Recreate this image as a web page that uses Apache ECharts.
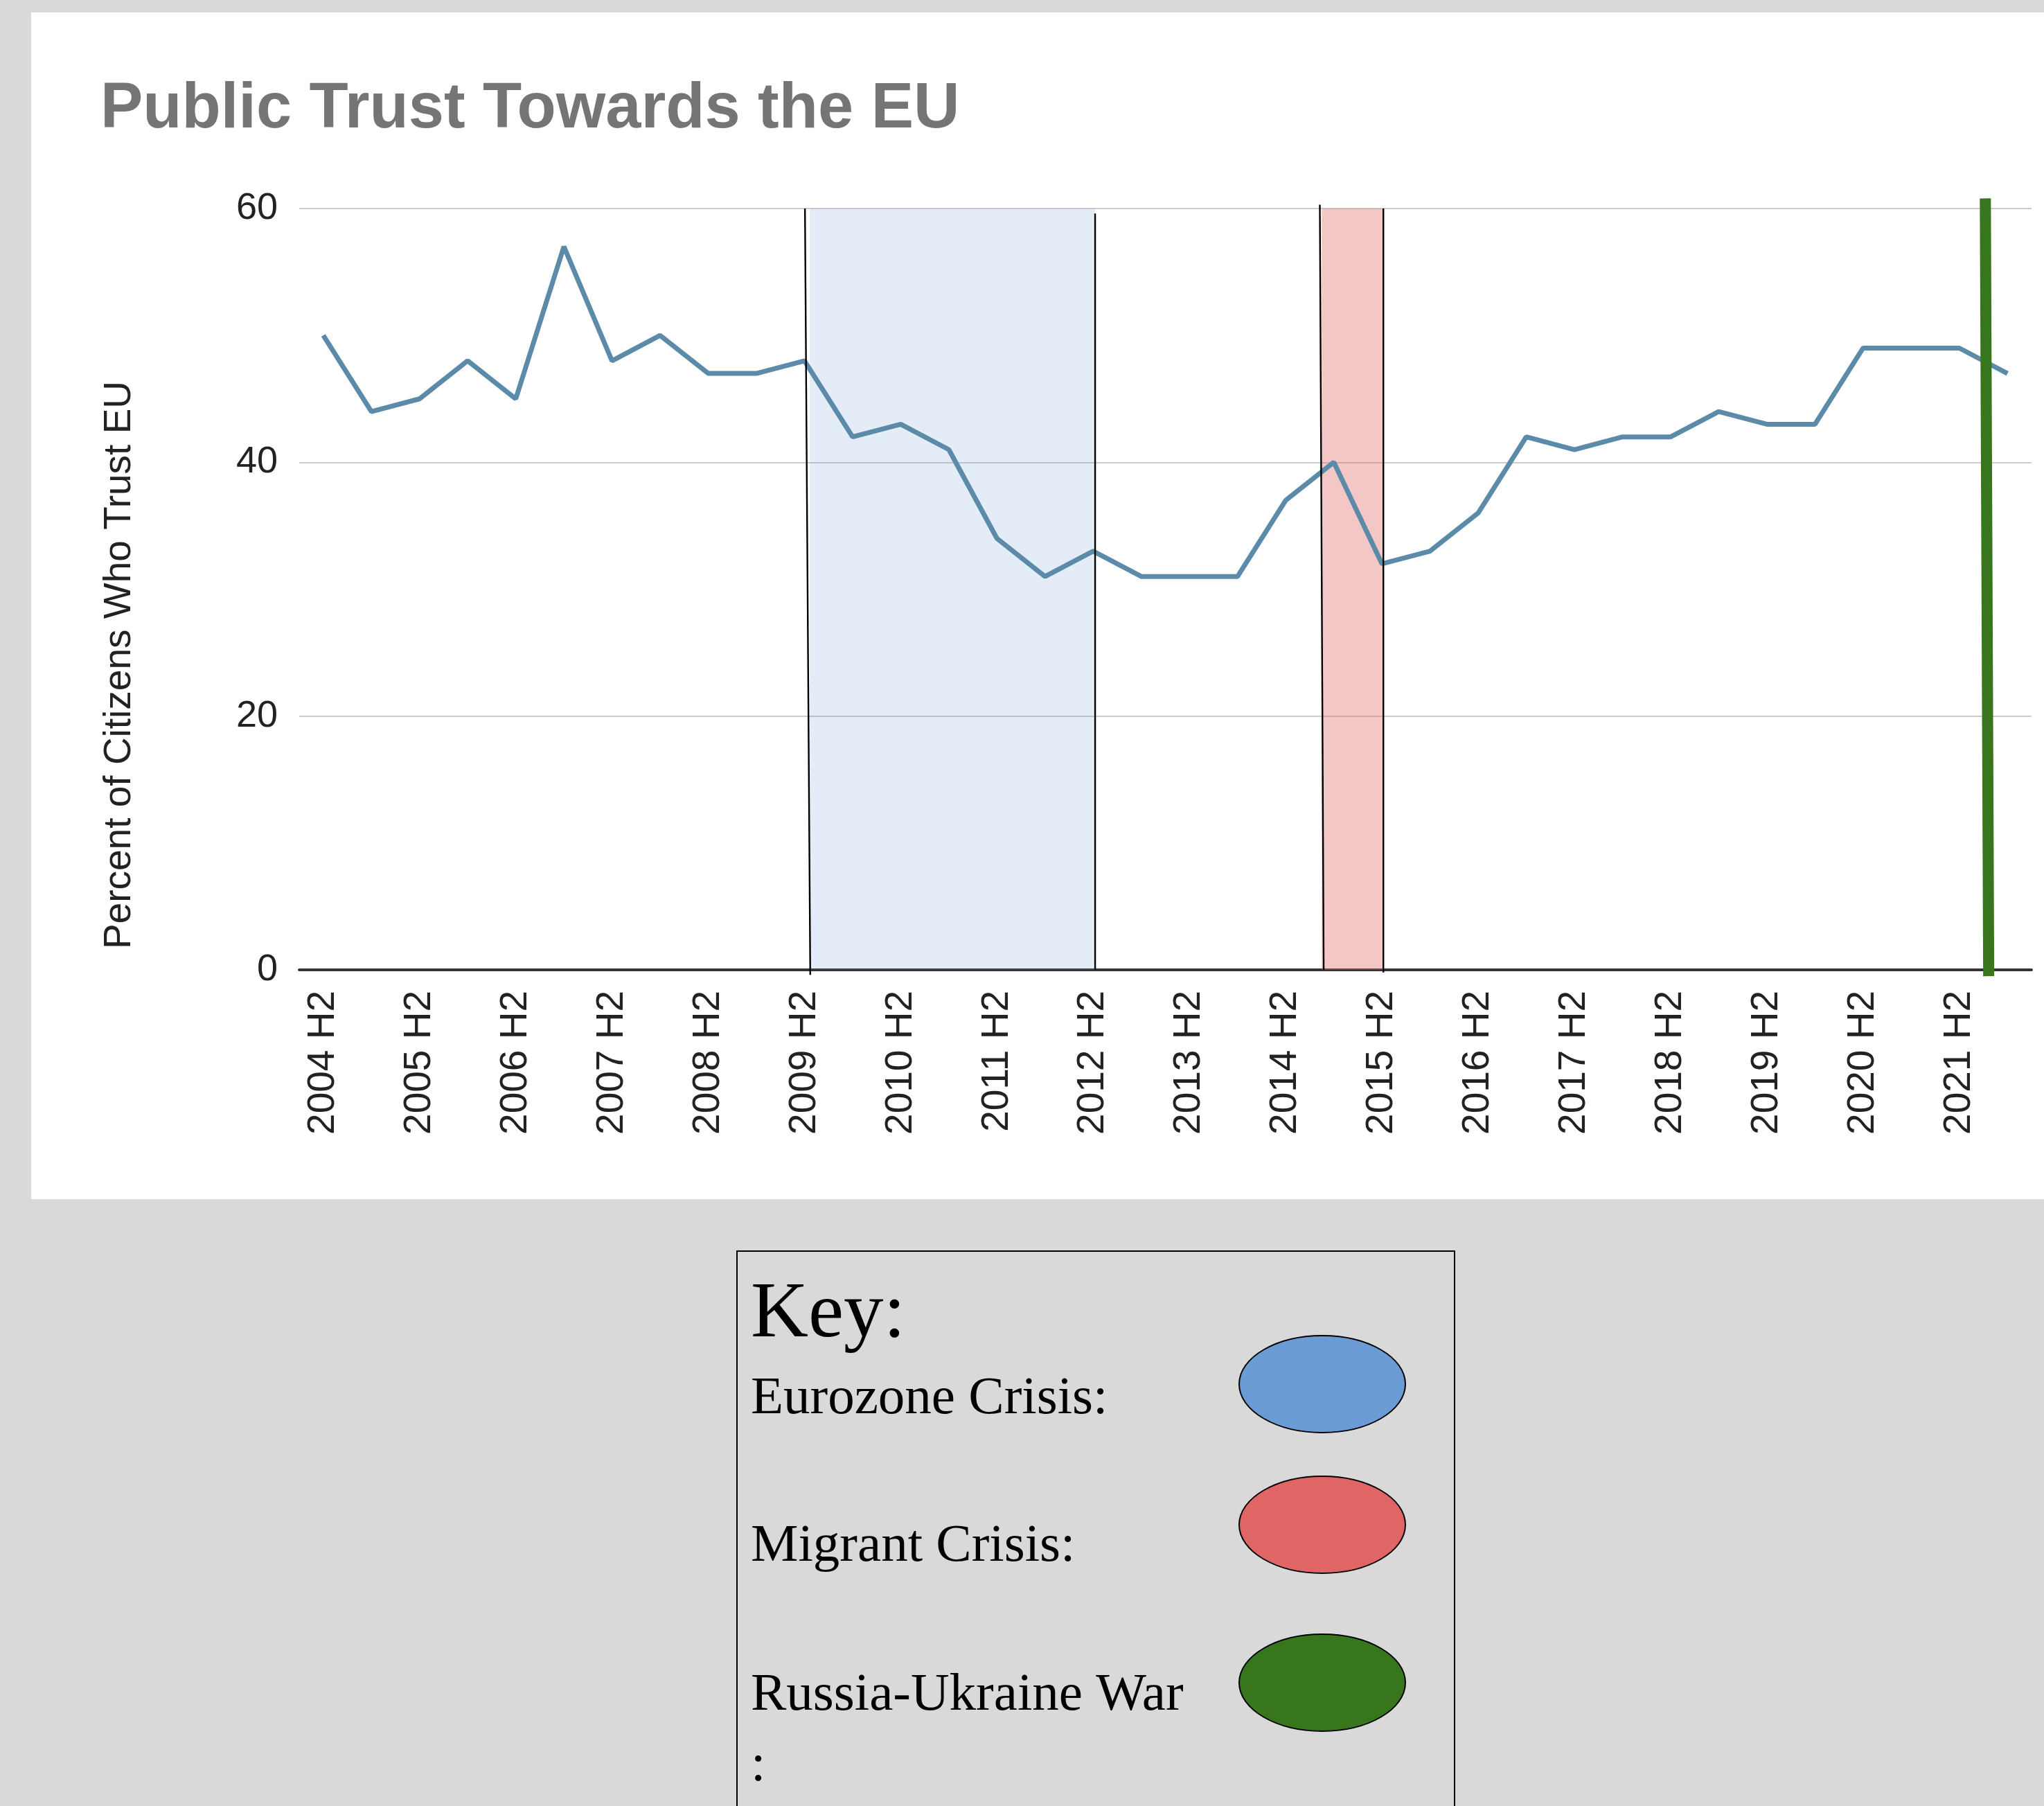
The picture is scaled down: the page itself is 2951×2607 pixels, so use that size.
<!DOCTYPE html>
<html>
<head>
<meta charset="utf-8">
<script src="https://cdn.jsdelivr.net/npm/echarts@6/dist/echarts.min.js"></script>
<style>
html,body{margin:0;padding:0;background:#d9d9d9;}
#c{width:2951px;height:2607px;}
</style>
</head>
<body>
<div id="c"></div>
<script>
// ---- data ----
const periods = ['2004 H2','2005 H1','2005 H2','2006 H1','2006 H2','2007 H1','2007 H2','2008 H1','2008 H2','2009 H1',
  '2009 H2','2010 H1','2010 H2','2011 H1','2011 H2','2012 H1','2012 H2','2013 H1','2013 H2','2014 H1',
  '2014 H2','2015 H1','2015 H2','2016 H1','2016 H2','2017 H1','2017 H2','2018 H1','2018 H2','2019 H1',
  '2019 H2','2020 H1','2020 H2','2021 H1','2021 H2','2022 H1'];
const trust = [50,44,45,48,45,57,48,50,47,47,
  48,42,43,41,34,31,33,31,31,31,
  37,40,32,33,36,42,41,42,42,44,
  43,43,49,49,49,47];
const yTicks = [0, 20, 40, 60];
// event spans, in period-index units (start, end)
const eurozoneSpan = [10.11, 16.04];
const migrantSpan = [20.75, 22.03];
// event lines: [xTop, yTop, xBottom, yBottom, kind]  kind 0 = span edge, 1 = war marker
const eventLines = [
  [10.01, 60, 10.12, -0.4, 0],
  [16.04, 59.6, 16.04, 0, 0],
  [20.71, 60.3, 20.79, 0, 0],
  [22.03, 60, 22.03, -0.2, 0],
  [34.54, 60.8, 34.61, -0.5, 1]
];
const keyItems = ['Eurozone Crisis:', 'Migrant Crisis:', 'Russia-Ukraine War'];

// ---- styles ----
const SANS = '"Liberation Sans", Arial, sans-serif';
const SERIF = '"Liberation Serif", "Times New Roman", serif';
const LINE = '#5b8ba8';
const BLUE = '#6a9bd4', RED = '#e06666', GREEN = '#38761d';

const chart = echarts.init(document.getElementById('c'));

const keyBaselines = [2046, 2259, 2474];
const keyEllipseY = [1998, 2201, 2429];
const keyColors = [BLUE, RED, GREEN];
const keyFs = 77;
const graphics = [
  {type: 'rect', z: -10, shape: {x: 45, y: 18, width: 2906, height: 1713}, style: {fill: '#ffffff'}},
  {type: 'rect', z: -10, shape: {x: 1064, y: 1806, width: 1036, height: 900}, style: {fill: '#d9d9d9', stroke: '#000', lineWidth: 2}},
  {type: 'text', x: 1084, y: 1938 - 0.3375 * 115, style: {text: 'Key:', font: '115px ' + SERIF, fill: '#000', textVerticalAlign: 'middle'}},
  {type: 'text', x: 173, y: 960, rotation: Math.PI / 2,
    style: {text: 'Percent of Citizens Who Trust EU', font: '55px ' + SANS, fill: '#222', textAlign: 'center', textVerticalAlign: 'middle'}}
];
keyItems.forEach((t, i) => {
  graphics.push({type: 'text', x: 1084, y: keyBaselines[i] - 0.3375 * keyFs,
    style: {text: t, font: keyFs + 'px ' + SERIF, fill: '#000', textVerticalAlign: 'middle'}});
  graphics.push({type: 'ellipse', shape: {cx: 1909, cy: keyEllipseY[i], rx: 120, ry: 70},
    style: {fill: keyColors[i], stroke: '#000', lineWidth: 2}});
});
graphics.push({type: 'text', x: 1084, y: 2576 - 0.3375 * keyFs,
  style: {text: ':', font: keyFs + 'px ' + SERIF, fill: '#000', textVerticalAlign: 'middle'}});

chart.setOption({
  animation: false,
  title: {
    text: 'Public Trust Towards the EU',
    left: 145, top: 113, padding: 0,
    textStyle: {fontFamily: SANS, fontSize: 92, fontWeight: 'bold', color: '#757575'}
  },
  grid: {left: 432, right: 18, top: 301, bottom: 1207, containLabel: false},
  xAxis: [{
    type: 'category',
    data: periods,
    boundaryGap: true,
    axisLine: {lineStyle: {color: '#333', width: 4}},
    axisTick: {show: false},
    axisLabel: {interval: 1, rotate: 90, margin: 30, fontFamily: SANS, fontSize: 55, color: '#222'},
    splitLine: {show: false}
  }, {
    type: 'value', min: -0.5, max: 35.5, show: false
  }],
  yAxis: {
    type: 'value', min: yTicks[0], max: yTicks[yTicks.length - 1], interval: 20,
    axisLine: {show: false}, axisTick: {show: false},
    axisLabel: {margin: 31, fontFamily: SANS, fontSize: 54, color: '#222'},
    splitLine: {lineStyle: {color: '#cccccc', width: 2}}
  },
  visualMap: {
    type: 'piecewise', show: false, seriesIndex: 1, dimension: 0,
    pieces: [
      {lt: migrantSpan[0], color: LINE},
      {gte: migrantSpan[0], lte: migrantSpan[1], color: '#5a6676'},
      {gt: migrantSpan[1], color: LINE}
    ]
  },
  graphic: graphics,
  series: [{
    type: 'line', xAxisIndex: 1, data: [], z: 1, silent: true, clip: false,
    markArea: {
      silent: true,
      data: [
        [{coord: [eurozoneSpan[0], 60], itemStyle: {color: BLUE, opacity: 0.18}}, {coord: [eurozoneSpan[1], 0]}],
        [{coord: [migrantSpan[0], 60], itemStyle: {color: RED, opacity: 0.37}}, {coord: [migrantSpan[1], 0]}]
      ]
    }
  }, {
    type: 'line', data: trust, z: 2, symbol: 'none', smooth: false,
    lineStyle: {width: 7, color: LINE}
  }, {
    type: 'custom', xAxisIndex: 1, z: 3, silent: true, clip: false,
    data: eventLines,
    renderItem: function (params, api) {
      const p1 = api.coord([api.value(0), api.value(1)]);
      const p2 = api.coord([api.value(2), api.value(3)]);
      const war = api.value(4) === 1;
      return {
        type: 'line',
        shape: {x1: p1[0], y1: p1[1], x2: p2[0], y2: p2[1]},
        style: {stroke: war ? GREEN : '#000', lineWidth: war ? 16 : 2.4}
      };
    }
  }]
});
</script>
</body>
</html>
